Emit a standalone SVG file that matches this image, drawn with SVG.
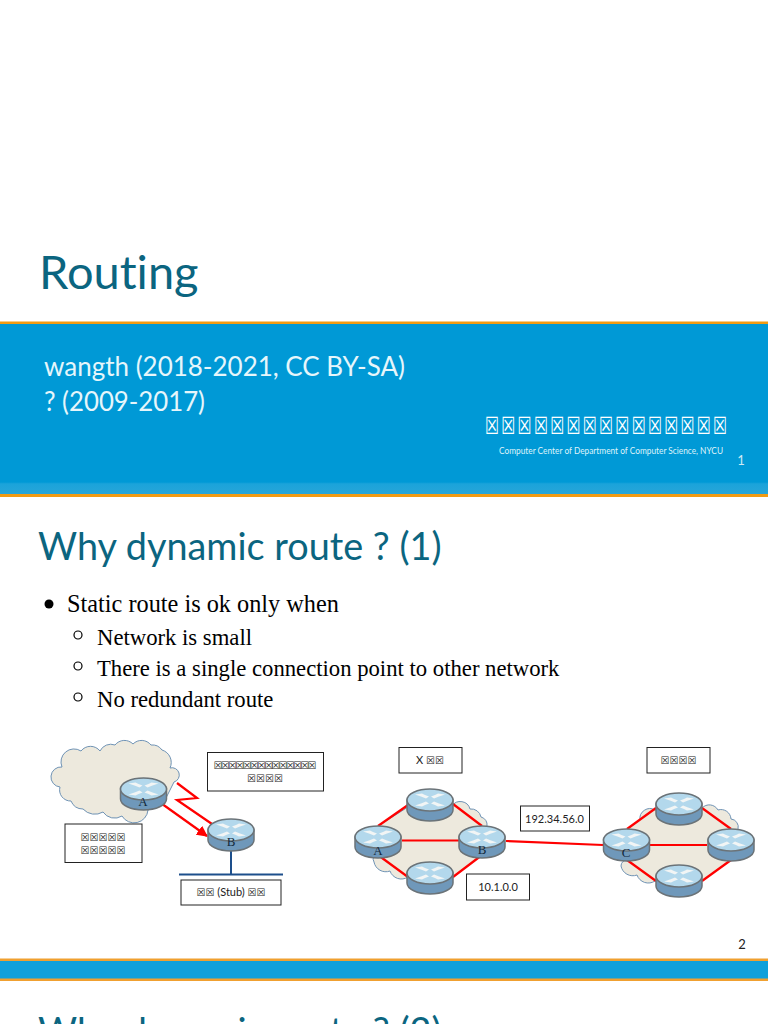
<svg xmlns="http://www.w3.org/2000/svg" width="768" height="1024" viewBox="0 0 768 1024">
<style>
text{font-variant-ligatures:none}
.title{font-family:"Lato","Open Sans",sans-serif;fill:#0b6580}
.sub{font-family:"Lato","Open Sans",sans-serif;fill:#e6f6fb;font-size:27px}
.body{font-family:"Liberation Serif",serif;fill:#000}
.lbl{font-family:"Lato","Open Sans",sans-serif;font-size:11px;fill:#222;text-anchor:middle}
.tofu{font-family:"DejaVu Sans",sans-serif;font-size:10px;font-weight:bold;fill:#222;text-anchor:middle}
.rl{font-family:"Liberation Serif",serif;font-size:13px;fill:#12283c;text-anchor:middle}
.box{fill:#fff;stroke:#222;stroke-width:1}
.red{fill:none;stroke:#f00;stroke-width:2.200}
.cloud{fill:#ede9dd;stroke:#6f93b5;stroke-width:1}
</style>
<defs>
<linearGradient id="band" x1="0" y1="0" x2="0" y2="1">
<stop offset="0" stop-color="#0099d6"/><stop offset="0.92" stop-color="#0099d6"/><stop offset="0.93" stop-color="#1ba3da"/><stop offset="1" stop-color="#2aa6d8"/>
</linearGradient>
<marker id="arrow" markerWidth="5" markerHeight="5" refX="4.500" refY="2.500" orient="auto"><path d="M0 0L5 2.500L0 5z" fill="#f00"/></marker>
<symbol id="router" overflow="visible" width="1" height="1">
<path d="M-23 0V10A23 11 0 0 0 23 10V0z" fill="#6f98ba" stroke="#6b7378" stroke-width="1.500"/>
<ellipse rx="23" ry="11" fill="#b3d8ec" stroke="#6b7378" stroke-width="1.500"/>
<path d="M-15 -5.500L-8 -6.500L-5 -5L-1 -3.500L-4 -1.500L-9 -3.500zM15 -5.500L8 -6.500L5 -5L1 -3.500L4 -1.500L9 -3.500zM-15 5.500L-8 6.500L-5 5L-1 3.500L-4 1.500L-9 3.500zM15 5.500L8 6.500L5 5L1 3.500L4 1.500L9 3.500z" fill="#f2f5f5"/>
</symbol>
</defs>
<rect width="768" height="1024" fill="#fff"/>
<g id="slide1">
<text class="title" x="39" y="289" font-size="47">Routing</text>
<rect x="0" y="322" width="768" height="174" fill="url(#band)"/>
<rect x="0" y="321.500" width="768" height="2.500" fill="#f29b12"/>
<rect x="0" y="494" width="768" height="3" fill="#f29b12"/>
<text class="sub" x="44" y="376" textLength="361" lengthAdjust="spacingAndGlyphs">wangth (2018-2021, CC BY-SA)</text>
<text class="sub" x="44" y="411" textLength="161" lengthAdjust="spacingAndGlyphs">? (2009-2017)</text>
<text transform="translate(485 434) scale(.85 1.3)" font-family="DejaVu Sans,sans-serif" font-size="18.500" letter-spacing="2.600" fill="#fff">☒☒☒☒☒☒☒☒☒☒☒☒☒☒☒</text>
<text x="499" y="454" font-family="Lato,sans-serif" font-size="8.500" fill="#dff3fa" textLength="224" lengthAdjust="spacingAndGlyphs">Computer Center of Department of Computer Science, NYCU</text>
<text x="741" y="465" font-family="Lato,sans-serif" font-size="13" fill="#cfeaf5" text-anchor="middle">1</text>
</g>
<g id="slide2">
<text class="title" x="38" y="560" font-size="37.800">Why dynamic route ? (1)</text>
<circle cx="49" cy="604" r="4.500" fill="#000"/>
<text class="body" x="67" y="612" font-size="24.300">Static route is ok only when</text>
<circle cx="78" cy="635" r="4" fill="none" stroke="#000" stroke-width="1.200"/>
<text class="body" x="97" y="645" font-size="22.700">Network is small</text>
<circle cx="78" cy="666" r="4" fill="none" stroke="#000" stroke-width="1.200"/>
<text class="body" x="97" y="676" font-size="22.700">There is a single connection point to other network</text>
<circle cx="78" cy="697" r="4" fill="none" stroke="#000" stroke-width="1.200"/>
<text class="body" x="97" y="707" font-size="22.700">No redundant route</text>
<text x="742" y="949" font-family="Lato,sans-serif" font-size="13" fill="#222" text-anchor="middle">2</text>
<rect x="0" y="959" width="768" height="21" fill="#10a0da"/>
<rect x="0" y="958.500" width="768" height="2.500" fill="#f0a030"/>
<rect x="0" y="978.500" width="768" height="2.500" fill="#f0a030"/>
<text class="title" x="38" y="1045" font-size="37.800">Why dynamic route ? (2)</text>
</g>
<g id="clouds">
<path class="cloud" d="M60 787A10 10 0 0 1 62 767A13 13 0 0 1 81 751A12 12 0 0 1 100 751A12 12 0 0 1 115 745A12 12 0 0 1 133 744A12 12 0 0 1 151 745A12 12 0 0 1 162 750A13 13 0 0 1 170 768A7 7 0 0 1 174 782L165 800L148 810A14 14 0 0 1 122 816A14 14 0 0 1 103 812A16 16 0 0 1 83 809A13 13 0 0 1 71 801A11 11 0 0 1 60 787z"/>
<path class="cloud" d="M378 826L408 807L452 806A10 10 0 0 1 470 809A10 10 0 0 1 481 817A8 8 0 0 1 487 826L482 855L453 877L408 877A12 12 0 0 1 390 871A12 12 0 0 1 374 862A6 6 0 0 1 378 853z"/>
<path class="cloud" d="M627 829L640 820A10 10 0 0 1 655 810L702 808A10 10 0 0 1 718 810A10 10 0 0 1 731 819A8 8 0 0 1 738 829L731 860L702 881L655 881A12 12 0 0 1 637 875A12 12 0 0 1 621 866A6 6 0 0 1 627 860z"/>
</g>
<g id="connectors">
<path class="red" d="M177 783L197 798L177 800L212 824"/>
<path class="red" stroke-width="2.500" marker-end="url(#arrow)" d="M158 801L207 836"/>
<path d="M179 874.500H283M231 849V874" fill="none" stroke="#1d4f8c" stroke-width="2"/>
<path class="red" d="M378 826L408 805M453 804L482 826M378 855L408 877M453 877L482 855M402 840.500H459M506 841L603 845M627 829L656 808M702 808L731 829M627 860L656 881M702 881L731 860M650 845H707"/>
</g>
<g id="router-a1"><use href="#router" x="143.500" y="789"/><text class="rl" x="143" y="806">A</text></g>
<g id="router-b1"><use href="#router" x="231" y="830"/><text class="rl" x="231" y="846">B</text></g>
<g id="router-x-top"><use href="#router" x="430" y="800"/></g>
<g id="router-a2"><use href="#router" x="378" y="837"/><text class="rl" x="378" y="855">A</text></g>
<g id="router-b2"><use href="#router" x="482" y="837"/><text class="rl" x="482" y="854">B</text></g>
<g id="router-x-bottom"><use href="#router" x="430" y="873"/></g>
<g id="router-y-top"><use href="#router" x="679" y="804"/></g>
<g id="router-c"><use href="#router" x="626.500" y="840"/><text class="rl" x="626" y="857">C</text></g>
<g id="router-y-right"><use href="#router" x="731" y="840"/></g>
<g id="router-y-bottom"><use href="#router" x="679" y="876"/></g>
<g id="box-1"><rect class="box" x="207.500" y="752.500" width="116" height="38.500"/><text class="tofu" x="265" y="769" textLength="103">☒☒☒☒☒☒☒☒☒☒☒☒☒☒</text><text class="tofu" x="265" y="782">☒☒☒☒</text></g>
<g id="box-2"><rect class="box" x="65" y="824" width="77" height="38.500"/><text class="tofu" x="103" y="841">☒☒☒☒☒</text><text class="tofu" x="103" y="854">☒☒☒☒☒</text></g>
<g id="box-stub"><rect class="box" x="181" y="880" width="100" height="25"/><text class="lbl" x="231" y="896"><tspan class="tofu">☒☒</tspan> (Stub) <tspan class="tofu">☒☒</tspan></text></g>
<g id="box-x"><rect class="box" x="399" y="747.500" width="63" height="25.500"/><text class="lbl" x="430" y="764">X <tspan class="tofu">☒☒</tspan></text></g>
<g id="box-other"><rect class="box" x="647" y="747.500" width="63" height="25.500"/><text class="tofu" x="678.500" y="764">☒☒☒☒</text></g>
<g id="box-ip1"><rect class="box" x="520.500" y="806" width="69" height="25"/><text class="lbl" x="554.500" y="823">192.34.56.0</text></g>
<g id="box-ip2"><rect class="box" x="466.500" y="874" width="63" height="26"/><text class="lbl" x="498" y="891">10.1.0.0</text></g>
</svg>
